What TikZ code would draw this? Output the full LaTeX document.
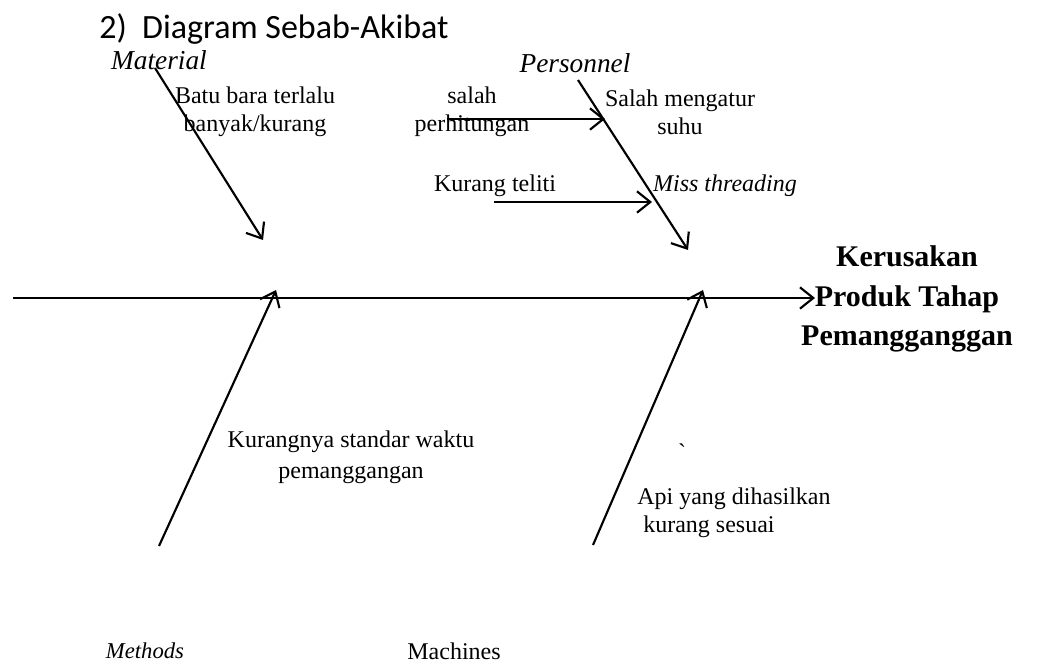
\documentclass[tikz,border=0pt]{standalone}
\usepackage{fontspec}
\setmainfont{Liberation Serif}
\newfontfamily\titlefont{Carlito}
\newfontfamily\rawfont[Ligatures=TeXOff]{Liberation Serif}
\usetikzlibrary{arrows.meta}
\begin{document}
\begin{tikzpicture}[x=0.75pt,y=-0.75pt,
  bone/.style={line width=1.6pt,-{Straight Barb[length=10pt,width=16pt,line width=1.6pt]}},
  lbl/.style={inner sep=0pt,font=\fontsize{18}{21}\selectfont},
  ilbl/.style={inner sep=0pt,font=\fontsize{18}{21}\selectfont\itshape},
  two/.style={lbl,align=center}]
\useasboundingbox (0,0) rectangle (1048,666);
% title
\node[inner sep=0pt,anchor=west,font=\titlefont\fontsize{25.5}{28}\selectfont] (title) at (99,29) {2)\ \ Diagram Sebab-Akibat};
% category labels
\node[ilbl,font=\fontsize{20.5}{22}\selectfont\itshape] (material) at (159,60) {Material};
\node[ilbl,font=\fontsize{20.5}{22}\selectfont\itshape] (personnel) at (575,63) {Personnel};
\node[ilbl,font=\fontsize{17}{20}\selectfont\itshape] (methods) at (145,651) {Methods};
\node[lbl] (machines) at (454,651) {Machines};
% effect
\node[inner sep=0pt,align=center,font=\fontsize{22.5}{29.5}\selectfont\bfseries] (effect) at (907,299) {Kerusakan\\Produk Tahap\\Pemangganggan};
% spine
\coordinate (s0) at (13,298);
\coordinate (s1) at (815,298);
\draw[bone] (s0) -- (s1);
% material bone
\coordinate (ma) at (155,68);
\coordinate (mb) at (263,240);
\draw[bone] (ma) -- (mb);
\node[two] (batu) at (255,112) {Batu bara terlalu\\banyak/kurang};
% personnel bone
\coordinate (pa) at (578,80);
\coordinate (pb) at (688,250);
\draw[bone] (pa) -- (pb);
\node[two] (salah) at (472,112) {salah\\perhitungan};
\node[two] (suhu) at (680,112) {Salah mengatur\\suhu};
\coordinate (sa) at (447,119);
\coordinate (sb) at (605,119);
\draw[bone] (sa) -- (sb);
\node[lbl] (teliti) at (495,186) {Kurang teliti};
\node[ilbl] (miss) at (725,186) {Miss threading};
\coordinate (ka) at (494,202);
\coordinate (kb) at (652,202);
\draw[bone] (ka) -- (kb);
% methods bone
\coordinate (ea) at (159,546);
\coordinate (eb) at (276,290);
\draw[bone] (ea) -- (eb);
\node[lbl,align=center,font=\fontsize{18}{23}\selectfont] (standar) at (351,457) {Kurangnya standar waktu\\pemanggangan};
% machines bone
\coordinate (ca) at (593,545);
\coordinate (cb) at (703,290);
\draw[bone] (ca) -- (cb);
\node[lbl,font=\rawfont\fontsize{18}{21}\selectfont] (tick) at (682,452) {`};
\node[lbl,align=left,anchor=west] (api) at (637,513) {Api yang dihasilkan\\\ kurang sesuai};
\end{tikzpicture}
\end{document}
